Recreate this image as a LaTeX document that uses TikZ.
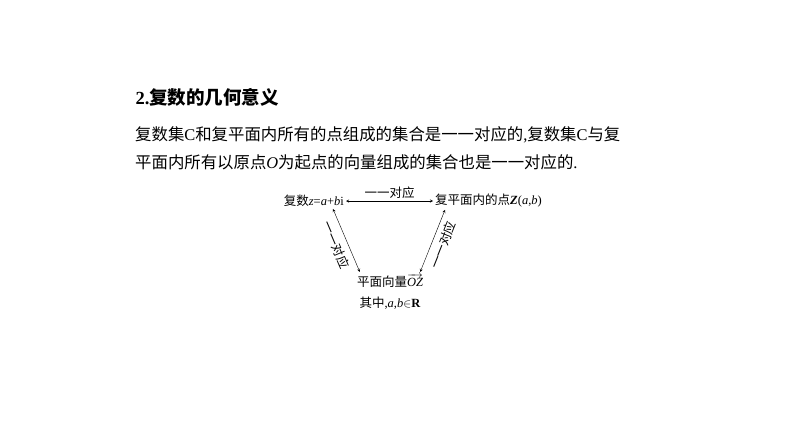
\documentclass[tikz,border=0pt]{standalone}
\usepackage{fontspec}
\setmainfont{Liberation Serif}
\newfontfamily\cjk{Noto Sans CJK SC}
\usepackage{amsmath}
\usepackage{xcolor}
\usetikzlibrary{arrows, calc}
\newcommand{\zh}[1]{{\cjk #1}}

\begin{document}
\begin{tikzpicture}[x=1pt, y=-1pt, >=stealth, lbl/.style={inner sep=2pt, font=\fontsize{12.5}{14}\selectfont}]
	\useasboundingbox (0,0) rectangle (794,447);

	\node [anchor=west, font=\fontsize{18.5}{20}\selectfont] (title) at (132,97) {\textbf{2.}\zh{\bfseries 复数的几何意义}};
	\node [anchor=west, inner sep=0pt, font=\fontsize{16.4}{18}\selectfont] (line1) at (135,135) {\zh{复数集}C\zh{和复平面内所有的点组成的集合是一一对应的},\zh{复数集}C\zh{与复}};
	\node [anchor=west, inner sep=0pt, font=\fontsize{16.4}{18}\selectfont] (line2) at (135,162) {\zh{平面内所有以原点}\textit{O}\zh{为起点的向量组成的集合也是一一对应的}.};

	\node [lbl, anchor=east] (num) at (346,201) {\zh{复数}\textit{z}=\textit{a}+\textit{b}i};
	\node [lbl, anchor=west] (pt) at (433,201) {\zh{复平面内的点}\textbf{\textit{Z}}(\textit{a},\textit{b})};
	\node [lbl] (vec) at (390,281) {\zh{平面向量}$\overrightarrow{\textit{OZ}}$};
	\node [lbl] (cond) at (390,303) {\zh{其中},\textit{a},\textit{b}$\in$\textbf{R}};

%	\fill (num.south east) circle (1pt);
	\draw [<->] (num.east) -- node [lbl, above] {\zh{一一对应}} (pt.west);
	\draw [<->] ([xshift=-13pt]num.south east) -- node [lbl, sloped, below=3pt] {\zh{一一对应}} ([xshift=5pt]vec.north west);
	\draw [<->] ([xshift=-5pt]vec.north east) -- node [lbl, sloped, below=3pt] {\zh{一一对应}} ([xshift=12pt]pt.south west);

\end{tikzpicture}
\end{document}
